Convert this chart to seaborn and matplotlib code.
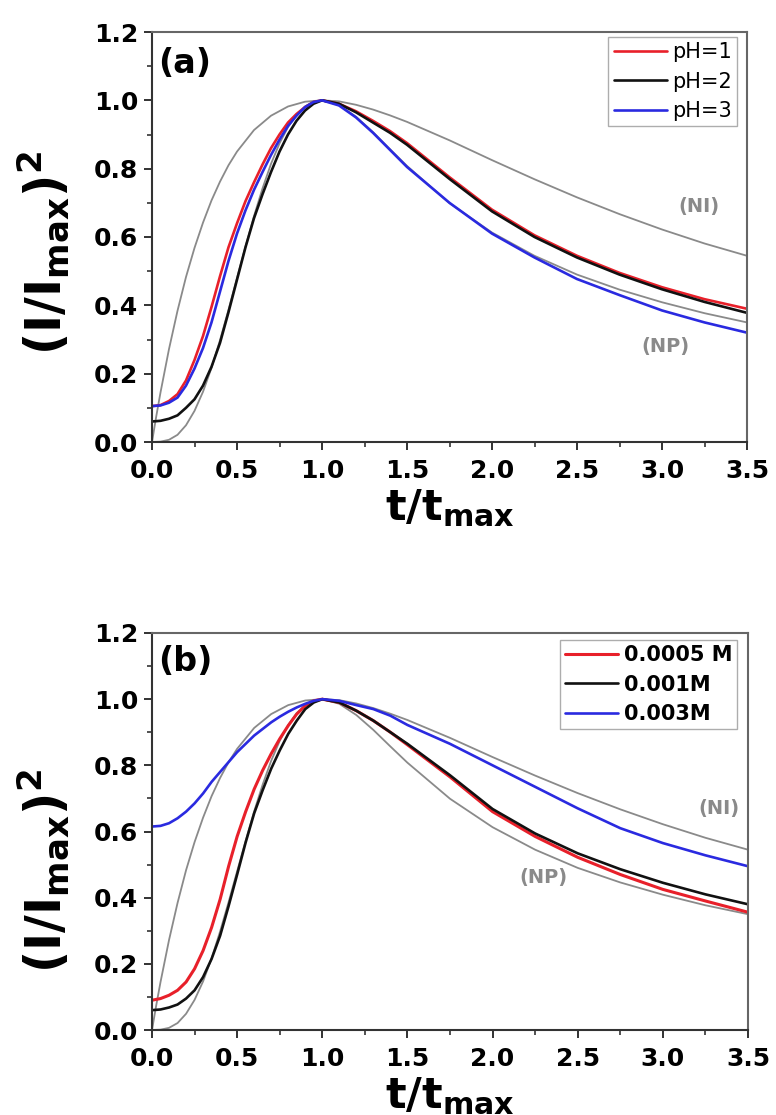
import matplotlib
matplotlib.use("Agg")
import matplotlib.pyplot as plt
from matplotlib.ticker import MultipleLocator
import seaborn as sns

sns.set_theme(style="ticks")
plt.rcParams["font.family"] = ["DejaVu Sans"]
plt.rcParams["mathtext.fontset"] = "dejavusans"
plt.rcParams["mathtext.default"] = "bf"
plt.rcParams["text.color"] = "black"
plt.rcParams["axes.labelcolor"] = "black"

# ---------------- data ----------------
x_ni = [0, 0.025, 0.05, 0.1, 0.15, 0.2, 0.25, 0.3, 0.35, 0.4, 0.45, 0.5, 0.6, 0.7,
        0.8, 0.9, 1.0, 1.1, 1.2, 1.3, 1.4, 1.5, 1.75, 2.0, 2.25, 2.5, 2.75, 3.0,
        3.25, 3.5]
y_ni = [0, 0.075, 0.145, 0.272, 0.384, 0.483, 0.568, 0.642, 0.707, 0.762, 0.810,
        0.850, 0.913, 0.955, 0.982, 0.996, 1.000, 0.997, 0.987, 0.973, 0.956,
        0.937, 0.883, 0.825, 0.769, 0.716, 0.667, 0.622, 0.581, 0.545]

x_np = [0, 0.05, 0.1, 0.15, 0.2, 0.25, 0.3, 0.35, 0.4, 0.45, 0.5, 0.55, 0.6, 0.65,
        0.7, 0.75, 0.8, 0.85, 0.9, 0.95, 1.0, 1.1, 1.2, 1.3, 1.4, 1.5, 1.75, 2.0,
        2.25, 2.5, 2.75, 3.0, 3.25, 3.5]
y_np = [0, 0.001, 0.0065, 0.021, 0.049, 0.091, 0.147, 0.217, 0.298, 0.387, 0.480,
        0.572, 0.661, 0.742, 0.814, 0.874, 0.922, 0.958, 0.982, 0.996, 1.000,
        0.986, 0.952, 0.907, 0.857, 0.808, 0.699, 0.613, 0.545, 0.490, 0.446,
        0.409, 0.377, 0.350]

x_exp = [0, 0.05, 0.1, 0.15, 0.2, 0.25, 0.3, 0.35, 0.4, 0.45, 0.5, 0.55, 0.6, 0.65,
         0.7, 0.75, 0.8, 0.85, 0.9, 0.95, 1.0, 1.1, 1.2, 1.3, 1.4, 1.5, 1.75, 2.0,
         2.25, 2.5, 2.75, 3.0, 3.25, 3.5]

# panel (a): pH series
ph_labels = ["pH=1", "pH=2", "pH=3"]
ph1 = [0.105, 0.108, 0.12, 0.14, 0.18, 0.24, 0.31, 0.395, 0.485, 0.57, 0.64, 0.705,
       0.76, 0.812, 0.86, 0.90, 0.935, 0.96, 0.98, 0.995, 1.0,
       0.99, 0.968, 0.94, 0.91, 0.875, 0.775, 0.68, 0.605, 0.545, 0.495, 0.453,
       0.418, 0.39]
ph2 = [0.06, 0.062, 0.068, 0.078, 0.10, 0.125, 0.165, 0.22, 0.29, 0.38, 0.475,
       0.57, 0.655, 0.725, 0.79, 0.85, 0.90, 0.94, 0.97, 0.99, 1.0,
       0.99, 0.965, 0.935, 0.905, 0.87, 0.77, 0.675, 0.60, 0.54, 0.49, 0.447,
       0.41, 0.378]
ph3 = [0.105, 0.107, 0.115, 0.13, 0.165, 0.215, 0.275, 0.35, 0.44, 0.53, 0.61,
       0.678, 0.738, 0.79, 0.84, 0.885, 0.925, 0.955, 0.98, 0.995, 1.0,
       0.985, 0.95, 0.905, 0.855, 0.805, 0.70, 0.61, 0.54, 0.477, 0.43, 0.385,
       0.35, 0.32]

# panel (b): concentration series
conc_labels = ["0.0005 M", "0.001M", "0.003M"]
c0005 = [0.09, 0.095, 0.105, 0.12, 0.145, 0.185, 0.24, 0.31, 0.395, 0.495, 0.585,
         0.66, 0.728, 0.785, 0.835, 0.88, 0.92, 0.955, 0.98, 0.995, 1.0,
         0.99, 0.965, 0.935, 0.90, 0.862, 0.765, 0.66, 0.585, 0.522, 0.47, 0.425,
         0.39, 0.356]
c001 = [0.06, 0.062, 0.068, 0.077, 0.095, 0.12, 0.16, 0.215, 0.285, 0.375, 0.47,
        0.567, 0.655, 0.725, 0.79, 0.845, 0.895, 0.935, 0.97, 0.99, 1.0,
        0.99, 0.965, 0.935, 0.90, 0.865, 0.77, 0.668, 0.594, 0.534, 0.486, 0.445,
        0.41, 0.38]
c003 = [0.615, 0.617, 0.625, 0.64, 0.66, 0.685, 0.715, 0.75, 0.78, 0.81, 0.84,
        0.865, 0.89, 0.91, 0.93, 0.947, 0.962, 0.975, 0.986, 0.995, 1.0,
        0.995, 0.982, 0.97, 0.95, 0.922, 0.865, 0.80, 0.735, 0.67, 0.61, 0.565,
        0.528, 0.495]

x_ticks = [0.0, 0.5, 1.0, 1.5, 2.0, 2.5, 3.0, 3.5]
y_ticks = [0.0, 0.2, 0.4, 0.6, 0.8, 1.0, 1.2]

RED = "#e8202a"
BLACK = "#111111"
BLUE = "#2a2ae0"
GRAY = "#8a8a8a"

fig = plt.figure(figsize=(7.76, 11.15), dpi=100)
ax_a = fig.add_axes([152 / 776, 1 - 442 / 1115, 595 / 776, 410 / 1115])
ax_b = fig.add_axes([152 / 776, 1 - 1030 / 1115, 596 / 776, 397 / 1115])


def style_axis(ax, ylab_y):
    ax.set_xlim(0, 3.5)
    ax.set_ylim(0, 1.2)
    ax.set_xticks(x_ticks)
    ax.set_yticks(y_ticks)
    ax.set_xticklabels([f"{v:.1f}" for v in x_ticks])
    ax.set_yticklabels([f"{v:.1f}" for v in y_ticks])
    ax.xaxis.set_minor_locator(MultipleLocator(0.25))
    ax.yaxis.set_minor_locator(MultipleLocator(0.1))
    ax.tick_params(which="major", direction="out", length=6, width=1.3,
                   labelsize=18, colors="#222222", top=False, right=False)
    ax.tick_params(axis="x", which="major", pad=6)
    ax.tick_params(axis="y", which="major", pad=4)
    ax.tick_params(which="minor", direction="out", length=3.5, width=1.1,
                   top=False, right=False, colors="#222222")
    for lab in ax.get_xticklabels() + ax.get_yticklabels():
        lab.set_fontweight("bold")
        lab.set_color("black")
    for side in ["left", "bottom"]:
        ax.spines[side].set_linewidth(1.5)
        ax.spines[side].set_color("#333333")
    for side in ["top", "right"]:
        ax.spines[side].set_linewidth(1.5)
        ax.spines[side].set_color("#666666")
    ax.set_xlabel(r"$t/t_{max}$", fontsize=31, labelpad=3)
    ax.set_ylabel(r"$(I/I_{max})^2$", fontsize=35)
    ax.yaxis.set_label_coords(-0.135, ylab_y)


leg_kw = dict(frameon=True, fancybox=False, edgecolor="#999999",
              handlelength=2.55, handletextpad=0.25, borderaxespad=0.0,
              labelspacing=0.45, borderpad=0.25, loc="upper right")

# ---- panel (a)
sns.lineplot(x=x_ni, y=y_ni, ax=ax_a, color=GRAY, lw=1.3)
sns.lineplot(x=x_np, y=y_np, ax=ax_a, color=GRAY, lw=1.3)
ha = []
for ys, col in zip([ph1, ph2, ph3], [RED, BLACK, BLUE]):
    sns.lineplot(x=x_exp, y=ys, ax=ax_a, color=col, lw=1.9)
    ha.append(ax_a.lines[-1])
style_axis(ax_a, 0.46)
leg = ax_a.legend(ha, ph_labels, bbox_to_anchor=(0.983, 0.988),
                  prop={"size": 15}, **leg_kw)
leg.get_frame().set_linewidth(1.0)
ax_a.text(0.01, 0.924, "(a)", transform=ax_a.transAxes, fontsize=24,
          fontweight="bold", va="center", ha="left")
ax_a.text(3.22, 0.69, "(NI)", fontsize=14, fontweight="bold", color=GRAY,
          ha="center", va="center")
ax_a.text(3.02, 0.28, "(NP)", fontsize=14, fontweight="bold", color=GRAY,
          ha="center", va="center")

# ---- panel (b)
sns.lineplot(x=x_ni, y=y_ni, ax=ax_b, color=GRAY, lw=1.3)
sns.lineplot(x=x_np, y=y_np, ax=ax_b, color=GRAY, lw=1.3)
hb = []
for ys, col, lw in zip([c0005, c001, c003], [RED, BLACK, BLUE], [2.2, 1.9, 1.9]):
    sns.lineplot(x=x_exp, y=ys, ax=ax_b, color=col, lw=lw)
    hb.append(ax_b.lines[-1])
style_axis(ax_b, 0.40)
leg = ax_b.legend(hb, conc_labels, bbox_to_anchor=(0.982, 0.982),
                  prop={"weight": "bold", "size": 15}, **leg_kw)
leg.get_frame().set_linewidth(1.0)
ax_b.text(0.01, 0.927, "(b)", transform=ax_b.transAxes, fontsize=24,
          fontweight="bold", va="center", ha="left")
ax_b.text(3.33, 0.67, "(NI)", fontsize=14, fontweight="bold", color=GRAY,
          ha="center", va="center")
ax_b.text(2.30, 0.46, "(NP)", fontsize=14, fontweight="bold", color=GRAY,
          ha="center", va="center")

fig.savefig("out.png", dpi=100)
